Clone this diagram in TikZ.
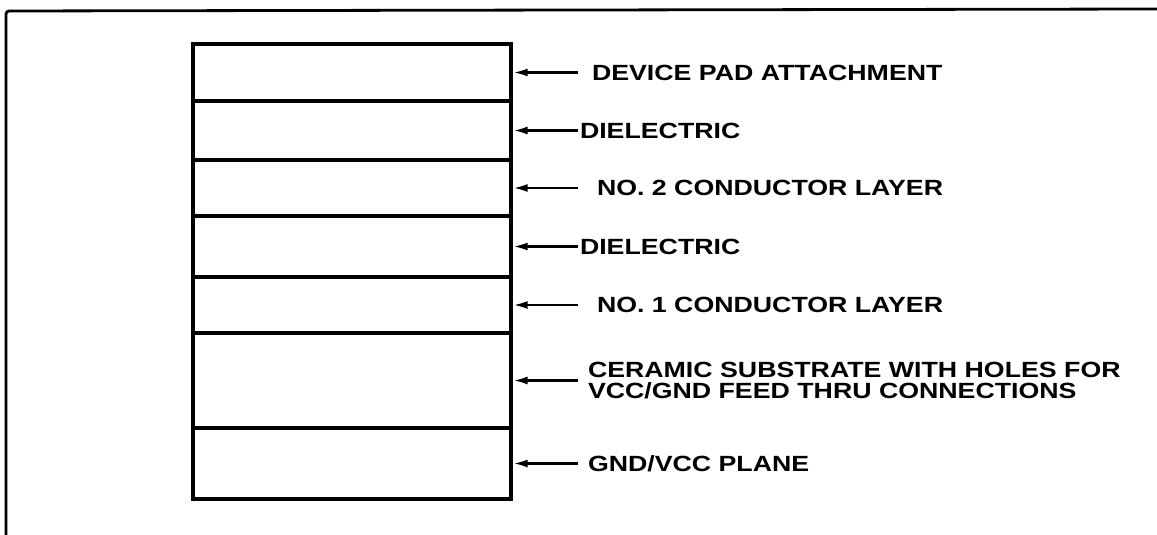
\documentclass[tikz,border=0pt]{standalone}
\usepackage{fontspec}
\setmainfont{Liberation Sans}
\usepackage{graphicx}
\usetikzlibrary{arrows.meta}
\newcommand{\lbl}[1]{\scalebox{1.215}[1]{#1}}
\begin{document}
\begin{tikzpicture}[x=1pt,y=-1pt,
  layer/.style={draw, rectangle, line width=3.4pt, minimum width=318pt, inner sep=0pt},
  lab/.style={anchor=west, inner ysep=0pt, outer sep=0pt, font=\bfseries\fontsize{22}{20.5}\selectfont, align=left},
  arr/.style={line width=2.6pt, -{Latex[length=15pt,width=8pt]}},
  frame/.style={line width=2.8pt, rounded corners=3pt}
]
\useasboundingbox (0,0) rectangle (1157,535);
\draw[frame] (6,535) -- (6,11) -- (1157,9);

\node[layer, minimum height=57pt] (l1) at (352,72.5) {};
\node[layer, minimum height=59pt] (l2) at (352,130.5) {};
\node[layer, minimum height=56pt] (l3) at (352,188) {};
\node[layer, minimum height=61pt] (l4) at (352,246.5) {};
\node[layer, minimum height=56pt] (l5) at (352,305) {};
\node[layer, minimum height=95pt] (l6) at (352,380.5) {};
\node[layer, minimum height=71pt] (l7) at (352,463.5) {};

\node[lab, inner xsep=14pt] (t1) at (578,72.5) {\lbl{DEVICE PAD ATTACHMENT}};
\node[lab, inner xsep=2pt] (t2) at (578,130.5) {\lbl{DIELECTRIC}};
\node[lab, inner xsep=19pt] (t3) at (578,188) {\lbl{NO. 2 CONDUCTOR LAYER}};
\node[lab, inner xsep=2pt] (t4) at (578,246.5) {\lbl{DIELECTRIC}};
\node[lab, inner xsep=19pt] (t5) at (578,305) {\lbl{NO. 1 CONDUCTOR LAYER}};
\node[lab, inner xsep=10pt] (t6) at (578,380.5) {\lbl{CERAMIC SUBSTRATE WITH HOLES FOR}\\\lbl{VCC/GND FEED THRU CONNECTIONS}};
\node[lab, inner xsep=10pt] (t7) at (578,463.5) {\lbl{GND/VCC PLANE}};

\draw[arr] (t1.west) -- (l1.east);
\draw[arr] (t2.west) -- (l2.east);
\draw[arr] (t3.west) -- (l3.east);
\draw[arr] (t4.west) -- (l4.east);
\draw[arr] (t5.west) -- (l5.east);
\draw[arr] (t6.west) -- (l6.east);
\draw[arr] (t7.west) -- (l7.east);
\end{tikzpicture}
\end{document}
